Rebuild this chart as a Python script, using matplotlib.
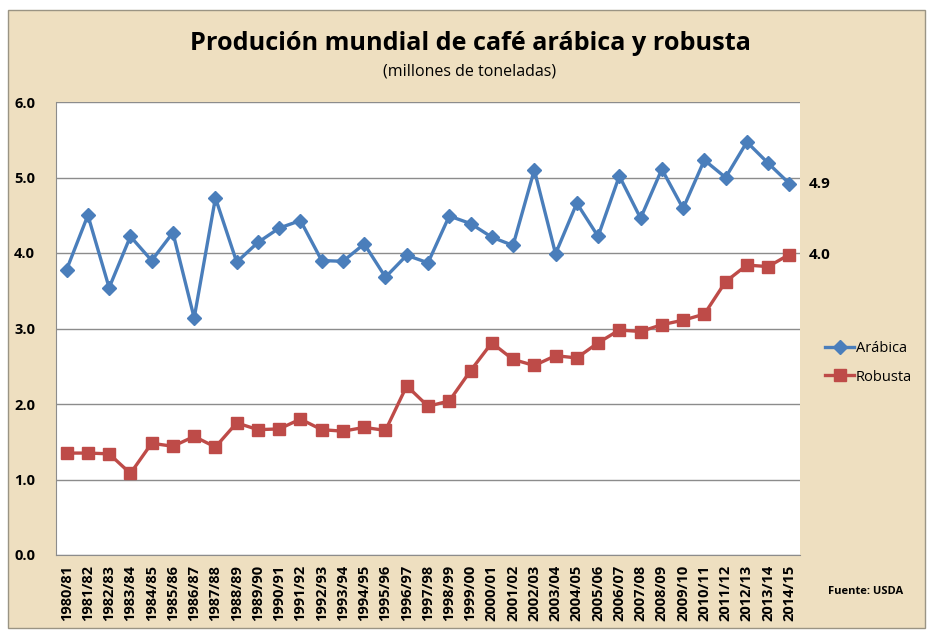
import matplotlib
matplotlib.use("Agg")
import matplotlib.pyplot as plt
from matplotlib.patches import Rectangle
from matplotlib.lines import Line2D

seasons = [f"{y}/{str(y + 1)[-2:]}" for y in range(1980, 2015)]
arabica = [3.78, 4.50, 3.54, 4.22, 3.90, 4.27, 3.14, 4.73, 3.88, 4.14,
           4.33, 4.43, 3.90, 3.89, 4.12, 3.68, 3.97, 3.87, 4.49, 4.39,
           4.21, 4.10, 5.10, 3.99, 4.66, 4.22, 5.02, 4.46, 5.11, 4.59,
           5.23, 5.00, 5.47, 5.19, 4.92]
robusta = [1.35, 1.35, 1.34, 1.08, 1.48, 1.44, 1.57, 1.43, 1.75, 1.66,
           1.67, 1.80, 1.66, 1.64, 1.69, 1.65, 2.24, 1.97, 2.04, 2.44,
           2.81, 2.59, 2.51, 2.64, 2.61, 2.81, 2.98, 2.96, 3.05, 3.11,
           3.19, 3.62, 3.84, 3.82, 3.98]
yticks = [0, 1, 2, 3, 4, 5, 6]
end_labels = ["4.9", "4.0"]

FONT = "Open Sans"
BG = "#EEDFC0"
BLUE = "#4A7EBB"
RED = "#BE4B48"

W, H = 932, 634
fig = plt.figure(figsize=(W / 100, H / 100), dpi=100)
fig.patch.set_facecolor("white")
fig.patches.append(Rectangle((8 / W, 1 - 628 / H), (925 - 8) / W, (628 - 10) / H,
                             transform=fig.transFigure, facecolor=BG,
                             edgecolor="#9A9484", linewidth=1.0, zorder=-5))

left, right, top, bottom = 56, 800, 102, 555
ax = fig.add_axes([left / W, 1 - bottom / H, (right - left) / W, (bottom - top) / H])
ax.set_facecolor("white")
x = list(range(len(seasons)))
ax.plot(x, arabica, color=BLUE, lw=2.4, marker="D", ms=7.5, mfc=BLUE, mec=BLUE,
        label="Arábica", zorder=3)
ax.plot(x, robusta, color=RED, lw=2.4, marker="s", ms=8.5, mfc=RED, mec=RED,
        label="Robusta", zorder=3)
ax.set_xlim(-0.5, len(seasons) - 0.5)
ax.set_ylim(0, 6)
ax.set_yticks(yticks)
ax.set_yticklabels([f"{v:.1f}" for v in yticks], fontsize=10.5, fontweight="bold",
                   family=FONT)
ax.set_xticks(x)
ax.set_xticklabels(seasons, rotation=90, fontsize=10.5, fontweight="bold", family=FONT)
ax.tick_params(axis="both", length=0, pad=7)
ax.tick_params(axis="y", pad=15)
ax.grid(axis="y", color="#8C8C8C", lw=1.0)
ax.set_axisbelow(True)
for s in ["top", "right"]:
    ax.spines[s].set_visible(False)
ax.spines["left"].set_color("#8C8C8C")
ax.spines["bottom"].set_color("#8C8C8C")

for val, lab in zip([arabica[-1], robusta[-1]], end_labels):
    ax.annotate(lab, (x[-1], val), xytext=(14, 0), textcoords="offset points",
                va="center", ha="left", fontsize=11, fontweight="bold", family=FONT,
                annotation_clip=False)

handles = [Line2D([], [], color=BLUE, lw=2.4, marker="D", ms=7),
           Line2D([], [], color=RED, lw=2.4, marker="s", ms=8)]
fig.legend(handles, ["Arábica", "Robusta"], loc="center left",
           bbox_to_anchor=(825 / W, 1 - 363 / H), frameon=False,
           prop={"family": FONT, "size": 10.5}, handlelength=2.0,
           handletextpad=0.1, labelspacing=0.9, borderaxespad=0, borderpad=0)

fig.text(470 / W, 1 - 44 / H, "Produción mundial de café arábica y robusta",
         ha="center", va="center", fontsize=18.2, fontweight="bold", family=FONT)
fig.text(470 / W, 1 - 72 / H, "(millones de toneladas)", ha="center", va="center",
         fontsize=11.5, family=FONT)
fig.text(866 / W, 1 - 591 / H, "Fuente: USDA", ha="center", va="center",
         fontsize=8, fontweight="bold", family=FONT)

fig.savefig("out.png", dpi=100)
